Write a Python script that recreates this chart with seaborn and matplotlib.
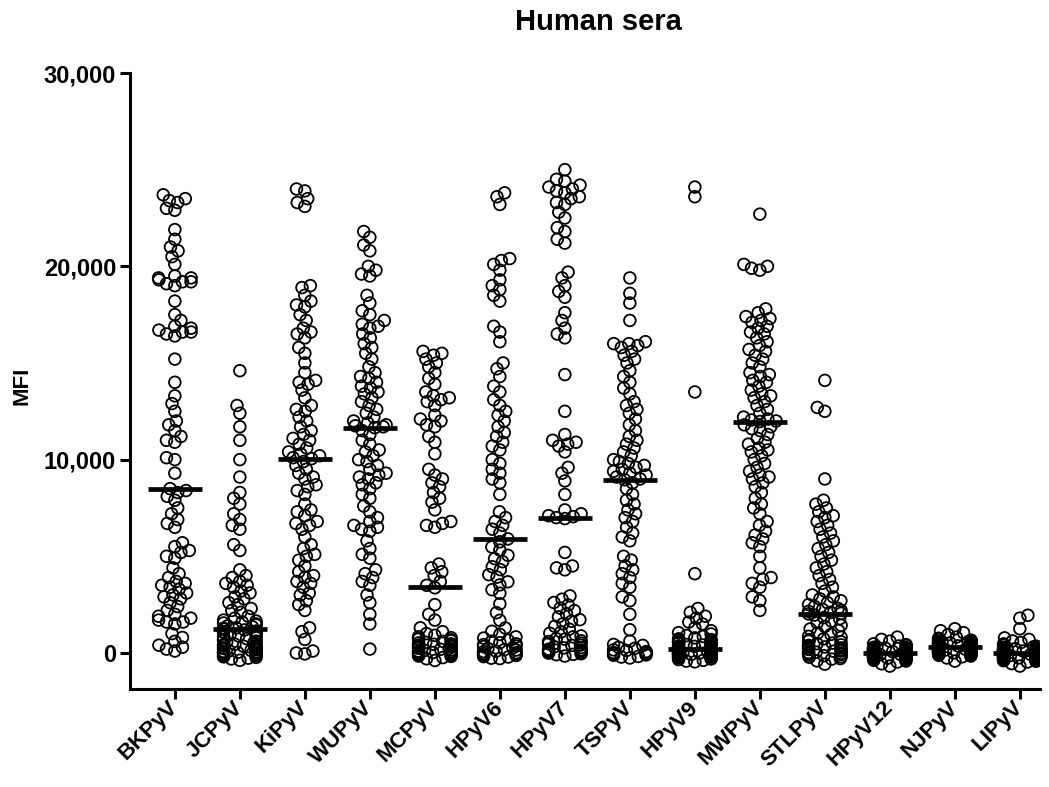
import matplotlib
matplotlib.use("Agg")
import matplotlib.pyplot as plt
from matplotlib.ticker import FuncFormatter
import pandas as pd
import seaborn as sns
from seaborn.categorical import Beeswarm

viruses = ['BKPyV', 'JCPyV', 'KiPyV', 'WUPyV', 'MCPyV', 'HPyV6', 'HPyV7',
           'TSPyV', 'HPyV9', 'MWPyV', 'STLPyV', 'HPyV12', 'NJPyV', 'LIPyV']

# MFI values, one list per virus
bkpyv = [23700, 23500, 23400, 23300, 23000, 22900, 21900, 21400, 21000, 20800,
         20500, 20100, 19500, 19400, 19400, 19300, 19200, 19200, 19100, 19000,
         18200, 17500, 17200, 16900, 16800, 16700, 16600, 16600, 16500, 16400,
         15200, 14000, 13300, 12900, 12500, 12000, 11800, 11500, 11200, 11000,
         10900, 10100, 10000, 9300, 8500, 8400, 8300, 8100, 7900, 7500,
         7200, 6900, 6700, 6500, 5700, 5500, 5300, 5200, 5000, 4900,
         4400, 4100, 3900, 3700, 3600, 3500, 3400, 3300, 3100, 3000,
         2900, 2800, 2600, 2400, 2200, 2000, 1900, 1800, 1700, 1600,
         1600, 1500, 1000, 800, 600, 400, 300, 200, 100]
jcpyv = [14600, 12800, 12400, 11700, 11000, 10000, 9100, 8300, 8000, 7700,
         7200, 6900, 6600, 6400, 5600, 5300, 4300, 4000, 3900, 3700,
         3600, 3500, 3400, 3200, 3100, 2900, 2800, 2600, 2500, 2300,
         2200, 2100, 1900, 1800, 1700, 1650, 1600, 1550, 1500, 1450,
         1400, 1350, 1300, 1280, 1240, 1190, 1130, 1080, 1020, 970,
         930, 880, 820, 790, 740, 690, 660, 610, 570, 530,
         490, 450, 420, 380, 350, 310, 280, 260, 230, 190,
         160, 130, 110, 80, 50, 30, 10, -10, -30, -60,
         -80, -110, -140, -170, -200, -230, -270, -310, -380]
kipyv = [24000, 23900, 23500, 23300, 23100, 19000, 18900, 18500, 18200, 18000,
         17900, 17500, 17200, 16800, 16600, 16500, 16300, 15800, 15500, 15000,
         14500, 14100, 14000, 13900, 13600, 13200, 12800, 12600, 12500, 12200,
         12000, 11700, 11500, 11300, 11100, 11000, 10800, 10600, 10400, 10300,
         10200, 10100, 10050, 9900, 9700, 9500, 9300, 9100, 9000, 8700,
         8600, 8400, 8200, 7700, 7400, 7300, 7100, 6800, 6700, 6600,
         6400, 6000, 5600, 5400, 5100, 5000, 4800, 4500, 4200, 4000,
         3900, 3700, 3600, 3400, 3100, 3000, 2700, 2500, 2200, 1300,
         1100, 700, 100, 0, -50]
wupyv = [21800, 21500, 21100, 20800, 20000, 19800, 19600, 19500, 18500, 18100,
         17700, 17500, 17200, 17000, 16900, 16800, 16500, 16300, 16000, 15800,
         15500, 15200, 14800, 14500, 14300, 14000, 13800, 13700, 13500, 13200,
         13000, 12800, 12600, 12400, 12200, 12000, 11900, 11800, 11750, 11700,
         13400, 14200, 11650, 11500, 11300, 11000, 10800, 10500, 10200, 10000,
         9900, 9700, 9500, 9300, 9100, 9000, 8800, 8500, 8200, 8000,
         7600, 7300, 7000, 6800, 6600, 6400, 5800, 5400, 5100, 4900,
         4300, 4100, 3900, 3700, 3500, 3000, 2600, 2000, 1500, 200,
         6500, 9200, 10400, 8700, 6300]
mcpyv = [15600, 15500, 15400, 15200, 15000, 14800, 14500, 14200, 13900, 13500,
         13300, 13200, 13100, 13000, 12800, 12300, 12100, 12000, 11800, 11700,
         11200, 10900, 10300, 9200, 9000, 8800, 8600, 8300, 8000, 7400,
         6800, 6700, 6600, 6500, 4600, 4400, 4200, 4000, 3700, 3500,
         9500, 7800, 3370, 2500, 2000, 1700, 1300, 1100, 1000, 910,
         840, 790, 720, 680, 630, 600, 550, 520, 470, 450,
         410, 380, 340, 320, 280, 240, 230, 190, 150, 130,
         90, 70, 40, 20, 0, -30, -50, -90, -110, -160,
         -180, -240, -300, -390]
hpyv6 = [23800, 23600, 23200, 20400, 20300, 20100, 19800, 19300, 19000, 18800,
         18500, 18200, 16900, 16600, 16100, 15000, 14700, 14300, 13800, 13500,
         13100, 12800, 12500, 12300, 12000, 11700, 11400, 11200, 10900, 10700,
         10500, 10000, 9800, 9500, 9300, 9000, 8800, 8200, 7300, 7000,
         6800, 6600, 6400, 6200, 5900, 5750, 5480, 5320, 5050, 4880,
         4720, 4460, 4310, 4050, 3920, 3680, 3520, 3270, 3090, 2540,
         2080, 1690, 1290, 1120, 960, 830, 770, 660, 610, 530,
         470, 430, 360, 330, 260, 230, 170, 150, 90, 70,
         10, -30, -50, -110, -130, -190, -210, -270, -290]
hpyv7 = [25000, 24500, 24400, 24200, 24100, 24000, 23900, 23800, 23600, 23500,
         23300, 23200, 22800, 22500, 22000, 21800, 21400, 21200, 19700, 19400,
         19000, 18700, 18400, 17600, 17200, 16800, 16500, 16300, 14400, 12500,
         11300, 11000, 10900, 10700, 10800, 10400, 9600, 9300, 8900, 8200,
         7400, 7200, 7100, 7050, 7000, 6950, 5200, 4500, 4400, 4300,
         2950, 2780, 2610, 2480, 2320, 2190, 2030, 1870, 1720, 1640,
         1510, 1380, 1230, 1090, 1020, 880, 830, 740, 710, 630,
         590, 510, 480, 410, 390, 320, 280, 260, 190, 160,
         120, 110, 50, 40, -10, -40, -70, -90, -160]
tspyv = [19400, 18600, 18100, 17200, 16100, 16000, 16000, 15900, 15800, 15600,
         15400, 15200, 15000, 14600, 14300, 14000, 13700, 13400, 13000, 12800,
         12600, 12400, 12100, 11800, 11500, 11200, 11000, 10800, 10600, 10400,
         10200, 10000, 9900, 9800, 9700, 9600, 9500, 9400, 9300, 9200,
         9100, 9000, 8960, 8800, 8500, 8200, 7900, 7700, 7400, 7200,
         7000, 6800, 6500, 6200, 6000, 5800, 5000, 4800, 4500, 4300,
         4100, 3900, 3600, 3400, 2900, 2700, 2000, 1200, 610, 440,
         390, 290, 240, 160, 130, 70, 50, 20, -30, -40,
         -100, -120, -180, -210, -260]
hpyv9 = [24100, 23600, 13500, 4100, 2300, 2100, 1900, 1800, 1600, 1500,
         1300, 1150, 1050, 980, 900, 850, 780, 730, 690, 640,
         600, 560, 530, 500, 470, 440, 410, 390, 360, 340,
         320, 300, 280, 265, 250, 235, 220, 210, 205, 200,
         195, 185, 170, 160, 150, 140, 125, 110, 100, 90,
         80, 65, 50, 40, 30, 20, 10, 0, -10, -20,
         -35, -50, -60, -75, -90, -100, -120, -140, -160, -180,
         -200, -220, -250, -280, -310, -340, -380, -420, -460]
mwpyv = [22700, 20100, 20000, 19900, 19800, 17800, 17600, 17400, 17300, 17200,
         17100, 16900, 16800, 16600, 16500, 16300, 16100, 15900, 15700, 15600,
         15400, 15200, 15000, 14800, 14500, 14300, 14100, 14000, 13800, 13600,
         13400, 13200, 13000, 12800, 12600, 12400, 12200, 12100, 12050, 12000,
         14400, 13300, 11970, 11800, 11600, 11500, 11300, 11100, 10900, 10800,
         10600, 10400, 10200, 10000, 9800, 9600, 9400, 9200, 9000, 8800,
         8600, 8300, 8000, 7700, 7500, 7200, 6800, 6600, 6300, 6100,
         5900, 5700, 5500, 5000, 4400, 3900, 3800, 3600, 3400, 2900,
         2700, 2200, 11700, 10500, 9100]
stlpyv = [14100, 12700, 12500, 9000, 7900, 7700, 7500, 7300, 7100, 7000,
          6800, 6600, 6400, 6200, 6000, 5800, 5600, 5400, 5200, 5000,
          4800, 4600, 4400, 4200, 4000, 3800, 3600, 3400, 3200, 3000,
          2900, 2800, 2700, 2600, 2500, 2400, 2300, 2250, 2200, 2150,
          2100, 2050, 2020, 1960, 1830, 1770, 1640, 1560, 1430, 1370,
          1240, 1160, 1030, 960, 860, 810, 730, 690, 610, 580,
          510, 480, 420, 390, 340, 310, 260, 240, 180, 160,
          100, 90, 40, 20, -20, -30, -80, -110, -140, -200,
          -220, -290, -320, -410, -580]
hpyv12 = [820, 700, 610, 470, 430, 380, 360, 310, 290, 270,
          250, 230, 220, 190, 180, 160, 150, 140, 120, 110,
          100, 90, 85, 70, 60, 55, 40, 30, 25, 15,
          10, 5, 0, 0, -5, -10, -20, -25, -30, -45,
          -50, -60, -70, -80, -90, -100, -110, -130, -140, -150,
          -170, -180, -200, -210, -230, -250, -270, -290, -310, -340,
          -380, -420, -470, -560, -680, 40, 120, -60, 0, 20,
          -30, 60, 90, -90, 150, -150, 200, -200, 10, -10,
          70, -70, 250, -250, 30, -40]
njpyv = [1250, 1150, 1050, 950, 820, 760, 700, 660, 620, 600,
         590, 580, 560, 540, 520, 510, 490, 480, 470, 450,
         440, 430, 425, 410, 405, 400, 390, 385, 380, 370,
         365, 360, 350, 345, 340, 335, 330, 325, 320, 318,
         315, 312, 310, 305, 300, 295, 290, 280, 270, 260,
         250, 240, 230, 220, 210, 200, 190, 180, 170, 160,
         150, 140, 130, 120, 110, 100, 90, 80, 70, 60,
         50, 40, 30, 20, 10, 0, -20, -40, -60, -90,
         -120, -160, -200, -260, -420]
lipyv = [1950, 1800, 1250, 780, 700, 620, 540, 470, 400, 350,
         320, 290, 260, 240, 220, 200, 185, 170, 155, 140,
         130, 120, 110, 100, 90, 80, 75, 70, 60, 55,
         50, 45, 40, 35, 30, 25, 20, 15, 12, 8,
         5, 2, 0, -3, -7, -10, -15, -20, -25, -30,
         -40, -50, -60, -70, -80, -90, -100, -110, -120, -130,
         -140, -150, -160, -170, -180, -190, -200, -210, -220, -230,
         -240, -250, -260, -270, -280, -300, -320, -340, -360, -380,
         -400, -430, -470, -550, -680]

groups = [bkpyv, jcpyv, kipyv, wupyv, mcpyv, hpyv6, hpyv7,
          tspyv, hpyv9, mwpyv, stlpyv, hpyv12, njpyv, lipyv]

rows = []
for name, vals in zip(viruses, groups):
    for v in vals:
        rows.append((name, v))
df = pd.DataFrame(rows, columns=['virus', 'MFI'])

sns.set_style('ticks', {'axes.edgecolor': 'black', 'text.color': 'black',
                        'xtick.color': 'black', 'ytick.color': 'black'})
plt.rcParams['font.family'] = ['Liberation Sans', 'DejaVu Sans']
plt.rcParams['font.weight'] = 'bold'

fig = plt.figure(figsize=(10.49, 7.87), dpi=100)
ax = fig.add_axes([130 / 1049, 1 - 689 / 787, 910 / 1049, (689 - 73) / 787])

# median bars only
sns.boxplot(data=df, x='virus', y='MFI', order=viruses, width=0.82,
            showfliers=False, showbox=False, showcaps=False,
            whiskerprops={'visible': False},
            medianprops={'color': 'black', 'linewidth': 3.4, 'solid_capstyle': 'butt'},
            ax=ax, zorder=5)

n_before = len(ax.collections)
sns.swarmplot(data=df, x='virus', y='MFI', order=viruses, size=8.4,
              color='black', linewidth=1.3, warn_thresh=1.0, ax=ax)
swarm_colls = ax.collections[n_before:]

# GraphPad-style scatter: let the circles overlap, so lay the swarm out
# with a smaller footprint than the drawn marker and a narrower band
beeswarm = Beeswarm(orient='x', width=0.5, warn_thresh=1.0)


def tight_draw(points, center):
    base_draw = type(points).draw

    def draw(renderer):
        sizes = points.get_sizes().copy()
        points.set_sizes(sizes * 0.3)
        beeswarm(points, center)
        points.set_sizes(sizes)
        base_draw(points, renderer)
    return draw


for i, coll in enumerate(swarm_colls):
    coll.set_facecolor('none')
    coll.set_edgecolor('black')
    coll.draw = tight_draw(coll, i)

ax.set_xlim(-0.69, 13.31)
ax.set_ylim(-1865, 30000)
ax.set_yticks([0, 10000, 20000, 30000])
ax.yaxis.set_major_formatter(FuncFormatter(lambda v, p: '{:,.0f}'.format(v)))
ax.set_xlabel('')
ax.set_ylabel('')

for side in ['top', 'right']:
    ax.spines[side].set_visible(False)
for side in ['left', 'bottom']:
    ax.spines[side].set_linewidth(2.2)
ax.tick_params(axis='both', width=2.2, length=7, color='black')
ax.tick_params(axis='y', labelsize=17, pad=3)
ax.tick_params(axis='x', labelsize=16, pad=4)
for lab in ax.get_yticklabels():
    lab.set_fontweight('bold')
for lab in ax.get_xticklabels():
    lab.set_fontweight('bold')
    lab.set_rotation(45)
    lab.set_ha('right')
    lab.set_va('center')
    lab.set_rotation_mode('anchor')

fig.text(598 / 1049, 1 - 22 / 787, 'Human sera', ha='center', va='center',
         fontsize=21, fontweight='bold')
fig.text(22 / 1049, 1 - 386 / 787, 'MFI', ha='center', va='center',
         rotation=90, fontsize=16, fontweight='bold')

fig.savefig('out.png', dpi=100)
